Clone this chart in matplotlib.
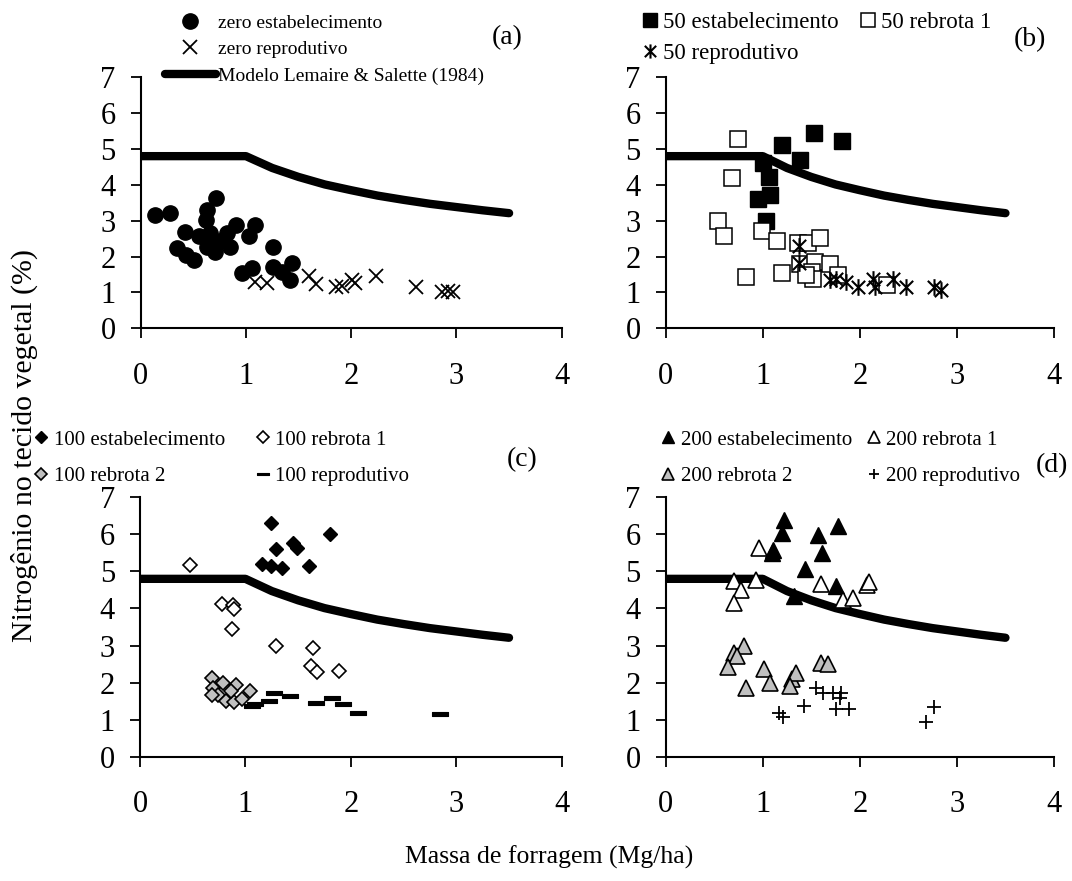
import matplotlib
matplotlib.use("Agg")
import matplotlib.pyplot as plt
from matplotlib.path import Path

plt.rcParams['font.family'] = ['Liberation Serif', 'DejaVu Serif']

# Critical N dilution curve (Lemaire & Salette, 1984)
model_x = [0.0, 0.25, 0.5, 0.75, 1.0, 1.25, 1.5, 1.75, 2.0, 2.25, 2.5, 2.75, 3.0, 3.25, 3.5]
model_n = [4.80, 4.80, 4.80, 4.80, 4.80, 4.47, 4.22, 4.01, 3.85, 3.70, 3.58, 3.47, 3.38, 3.29, 3.21]

# (a) dose zero
zero_est_x = [0.14, 0.28, 0.42, 0.35, 0.43, 0.51, 0.72, 0.63, 0.62, 0.55, 0.66, 0.63, 0.71,
              0.75, 0.85, 0.82, 0.91, 1.03, 1.09, 1.26, 0.96, 1.06, 1.26, 1.34, 1.44, 1.42]
zero_est_n = [3.16, 3.21, 2.69, 2.23, 2.04, 1.90, 3.62, 3.30, 3.02, 2.56, 2.65, 2.28, 2.14,
              2.42, 2.28, 2.65, 2.88, 2.56, 2.88, 2.28, 1.55, 1.69, 1.72, 1.58, 1.83, 1.35]
zero_rep_x = [1.09, 1.20, 1.60, 1.67, 1.86, 1.91, 2.01, 2.04, 2.24, 2.62, 2.86, 2.92, 2.97]
zero_rep_n = [1.30, 1.25, 1.46, 1.23, 1.14, 1.17, 1.35, 1.25, 1.46, 1.16, 1.02, 1.05, 1.02]

# (b) dose 50
d50_est_x = [1.53, 1.82, 1.20, 1.38, 1.00, 1.06, 1.07, 0.95, 1.03]
d50_est_n = [5.44, 5.22, 5.11, 4.69, 4.60, 4.23, 3.72, 3.60, 3.00]
d50_reb1_x = [0.74, 0.68, 0.54, 0.60, 0.99, 1.15, 1.36, 1.47, 1.59, 0.83, 1.20, 1.38, 1.54,
              1.51, 1.52, 1.69, 1.78, 2.28, 1.45]
d50_reb1_n = [5.28, 4.18, 3.00, 2.56, 2.72, 2.43, 2.37, 2.39, 2.51, 1.44, 1.55, 1.79, 1.86,
              1.58, 1.37, 1.79, 1.49, 1.21, 1.49]
d50_rep_x = [1.37, 1.37, 1.69, 1.86, 1.98, 2.14, 2.16, 2.34, 2.48, 2.76, 2.84, 1.75]
d50_rep_n = [2.30, 1.83, 1.35, 1.30, 1.14, 1.37, 1.14, 1.37, 1.14, 1.14, 1.08, 1.37]

# (c) dose 100
d100_est_x = [1.24, 1.80, 1.29, 1.45, 1.49, 1.16, 1.24, 1.35, 1.60]
d100_est_n = [6.31, 6.00, 5.60, 5.78, 5.62, 5.20, 5.15, 5.10, 5.14]
d100_reb1_x = [0.47, 0.78, 0.88, 0.89, 0.87, 1.29, 1.64, 1.62, 1.68, 1.89]
d100_reb1_n = [5.17, 4.12, 4.09, 3.98, 3.44, 3.00, 2.92, 2.46, 2.28, 2.31]
d100_reb2_x = [0.68, 0.79, 0.91, 1.04, 0.69, 0.74, 0.68, 0.82, 0.89, 0.97, 0.86]
d100_reb2_n = [2.13, 2.00, 1.93, 1.78, 1.85, 1.66, 1.66, 1.51, 1.48, 1.57, 1.76]
d100_rep_x = [1.09, 1.22, 1.27, 1.42, 1.67, 1.82, 1.93, 2.07, 2.85, 1.06]
d100_rep_n = [1.42, 1.50, 1.71, 1.64, 1.46, 1.58, 1.42, 1.17, 1.15, 1.37]

# (d) dose 200
d200_est_x = [1.22, 1.20, 1.77, 1.57, 1.61, 1.11, 1.09, 1.44, 1.75, 1.32]
d200_est_n = [6.39, 6.05, 6.23, 5.98, 5.51, 5.58, 5.51, 5.06, 4.61, 4.34]
d200_reb1_x = [0.96, 0.70, 0.93, 0.78, 0.70, 1.60, 1.83, 1.93, 2.07, 2.09]
d200_reb1_n = [5.62, 4.74, 4.77, 4.50, 4.16, 4.65, 4.23, 4.29, 4.64, 4.72]
d200_reb2_x = [0.81, 0.70, 0.73, 0.64, 1.01, 0.83, 1.07, 1.30, 1.34, 1.28, 1.60, 1.67]
d200_reb2_n = [2.99, 2.81, 2.72, 2.43, 2.38, 1.85, 2.00, 2.11, 2.27, 1.91, 2.54, 2.50]
d200_rep_x = [1.17, 1.21, 1.42, 1.55, 1.62, 1.72, 1.81, 1.80, 1.75, 1.89, 2.68, 2.76]
d200_rep_n = [1.17, 1.06, 1.37, 1.85, 1.71, 1.71, 1.71, 1.58, 1.28, 1.28, 0.94, 1.35]

x_ticks = [0, 1, 2, 3, 4]
y_ticks = [0, 1, 2, 3, 4, 5, 6, 7]

# custom markers: Excel-style asterisk and dash
asterisk = Path([(0, -1), (0, 1), (-0.8, -0.8), (0.8, 0.8), (-0.8, 0.8), (0.8, -0.8)],
                [Path.MOVETO, Path.LINETO] * 3)
dash = Path([(-1, -0.22), (1, -0.22), (1, 0.22), (-1, 0.22), (-1, -0.22)],
            [Path.MOVETO, Path.LINETO, Path.LINETO, Path.LINETO, Path.CLOSEPOLY])

GRAY = '#c0c0c0'
W, H = 1072, 881
fig = plt.figure(figsize=(W / 100, H / 100), dpi=100)


def frac(px, py):
    return px / W, 1 - py / H


def make_axes(rect):
    ax = fig.add_axes(rect)
    ax.set_xlim(0, 4)
    ax.set_ylim(0, 7)
    ax.set_xticks(x_ticks)
    ax.set_yticks(y_ticks)
    for s in ('top', 'right'):
        ax.spines[s].set_visible(False)
    for s in ('left', 'bottom'):
        ax.spines[s].set_linewidth(1.5)
    ax.tick_params(axis='both', direction='out', length=7, width=1.3, labelsize=22)
    ax.tick_params(axis='x', pad=17)
    ax.tick_params(axis='y', pad=11)
    ax.patch.set_alpha(0)
    return ax


def model(ax):
    return ax.plot(model_x, model_n, color='black', lw=6, solid_capstyle='round',
                   solid_joinstyle='round', zorder=2,
                   label='Modelo Lemaire & Salette (1984)')[0]


ax_a = make_axes([0.1312, 0.6274, 0.3928, 0.2849])
ax_b = make_axes([0.6210, 0.6274, 0.3622, 0.2849])
ax_c = make_axes([0.1306, 0.1411, 0.3934, 0.2944])
ax_d = make_axes([0.6210, 0.1411, 0.3622, 0.2944])

# ---- (a)
ln = model(ax_a)
h1, = ax_a.plot(zero_est_x, zero_est_n, 'o', ms=11, color='black', zorder=3,
                label='zero estabelecimento')
h2, = ax_a.plot(zero_rep_x, zero_rep_n, 'x', ms=9.5, mew=1.3, color='black', zorder=3,
                label='zero reprodutivo')
ax_a.legend(handles=[h1, h2, ln], loc='upper left', bbox_to_anchor=frac(165, 14),
            bbox_transform=fig.transFigure, frameon=False, fontsize=14,
            handlelength=2.6, handletextpad=0.15, labelspacing=0.46,
            borderpad=0, borderaxespad=0)

# ---- (b)
model(ax_b)
b1, = ax_b.plot(d50_est_x, d50_est_n, 's', ms=12, color='black', zorder=3,
                label='50 estabelecimento')
b2, = ax_b.plot(d50_reb1_x, d50_reb1_n, 's', ms=12, mfc='white', mec='black', mew=1.1,
                zorder=3, label='50 rebrota 1')
b3, = ax_b.plot(d50_rep_x, d50_rep_n, marker=asterisk, ls='none', ms=12, mew=1.5,
                color='black', zorder=4, label='50 reprodutivo')
ax_b.legend(handles=[b1, b3, b2], ncol=2, loc='upper left', bbox_to_anchor=frac(642, 12),
            bbox_transform=fig.transFigure, frameon=False, fontsize=16.5,
            handlelength=0.7, handletextpad=0.22, labelspacing=0.42, columnspacing=0.92,
            markerscale=0.85, borderpad=0, borderaxespad=0)

# ---- (c)
model(ax_c)
c1, = ax_c.plot(d100_est_x, d100_est_n, 'D', ms=7.5, color='black', zorder=3,
                label='100 estabelecimento')
c2, = ax_c.plot(d100_reb1_x, d100_reb1_n, 'D', ms=7.5, mfc='white', mec='black', mew=1.2,
                zorder=3, label='100 rebrota 1')
c3, = ax_c.plot(d100_reb2_x, d100_reb2_n, 'D', ms=7.5, mfc=GRAY, mec='black', mew=1.2,
                zorder=3, label='100 rebrota 2')
c4, = ax_c.plot(d100_rep_x, d100_rep_n, marker=dash, ls='none', ms=12, mfc='black',
                mec='black', mew=0.8, zorder=3, label='100 reprodutivo')
ax_c.legend(handles=[c1, c3, c2, c4], ncol=2, loc='upper left', bbox_to_anchor=frac(35, 430),
            bbox_transform=fig.transFigure, frameon=False, fontsize=15,
            handlelength=0.6, handletextpad=0.3, labelspacing=0.8, columnspacing=1.5,
            markerscale=0.75, borderpad=0, borderaxespad=0)

# ---- (d)
model(ax_d)
d1, = ax_d.plot(d200_est_x, d200_est_n, '^', ms=12, color='black', zorder=3,
                label='200 estabelecimento')
d2, = ax_d.plot(d200_reb1_x, d200_reb1_n, '^', ms=12, mfc='white', mec='black', mew=1.2,
                zorder=3, label='200 rebrota 1')
d3, = ax_d.plot(d200_reb2_x, d200_reb2_n, '^', ms=12, mfc=GRAY, mec='black', mew=1.2,
                zorder=3, label='200 rebrota 2')
d4, = ax_d.plot(d200_rep_x, d200_rep_n, '+', ms=10, mew=1.3, color='black', zorder=3,
                label='200 reprodutivo')
ax_d.legend(handles=[d1, d3, d2, d4], ncol=2, loc='upper left', bbox_to_anchor=frac(662, 430),
            bbox_transform=fig.transFigure, frameon=False, fontsize=15,
            handlelength=0.6, handletextpad=0.3, labelspacing=0.8, columnspacing=0.75,
            markerscale=0.75, borderpad=0, borderaxespad=0)

# panel letters
for txt, (px, py) in [('(a)', (507, 38)), ('(b)', (1030, 40)),
                      ('(c)', (522, 460)), ('(d)', (1052, 466))]:
    fig.text(*frac(px, py), txt, fontsize=20, ha='center', va='center')

fig.text(*frac(549, 857), 'Massa de forragem (Mg/ha)', fontsize=18.5, ha='center', va='center')
fig.text(*frac(24, 445), 'Nitrogênio no tecido vegetal (%)', fontsize=21.5, rotation=90,
         ha='center', va='center')

fig.savefig('out.png', dpi=100)
